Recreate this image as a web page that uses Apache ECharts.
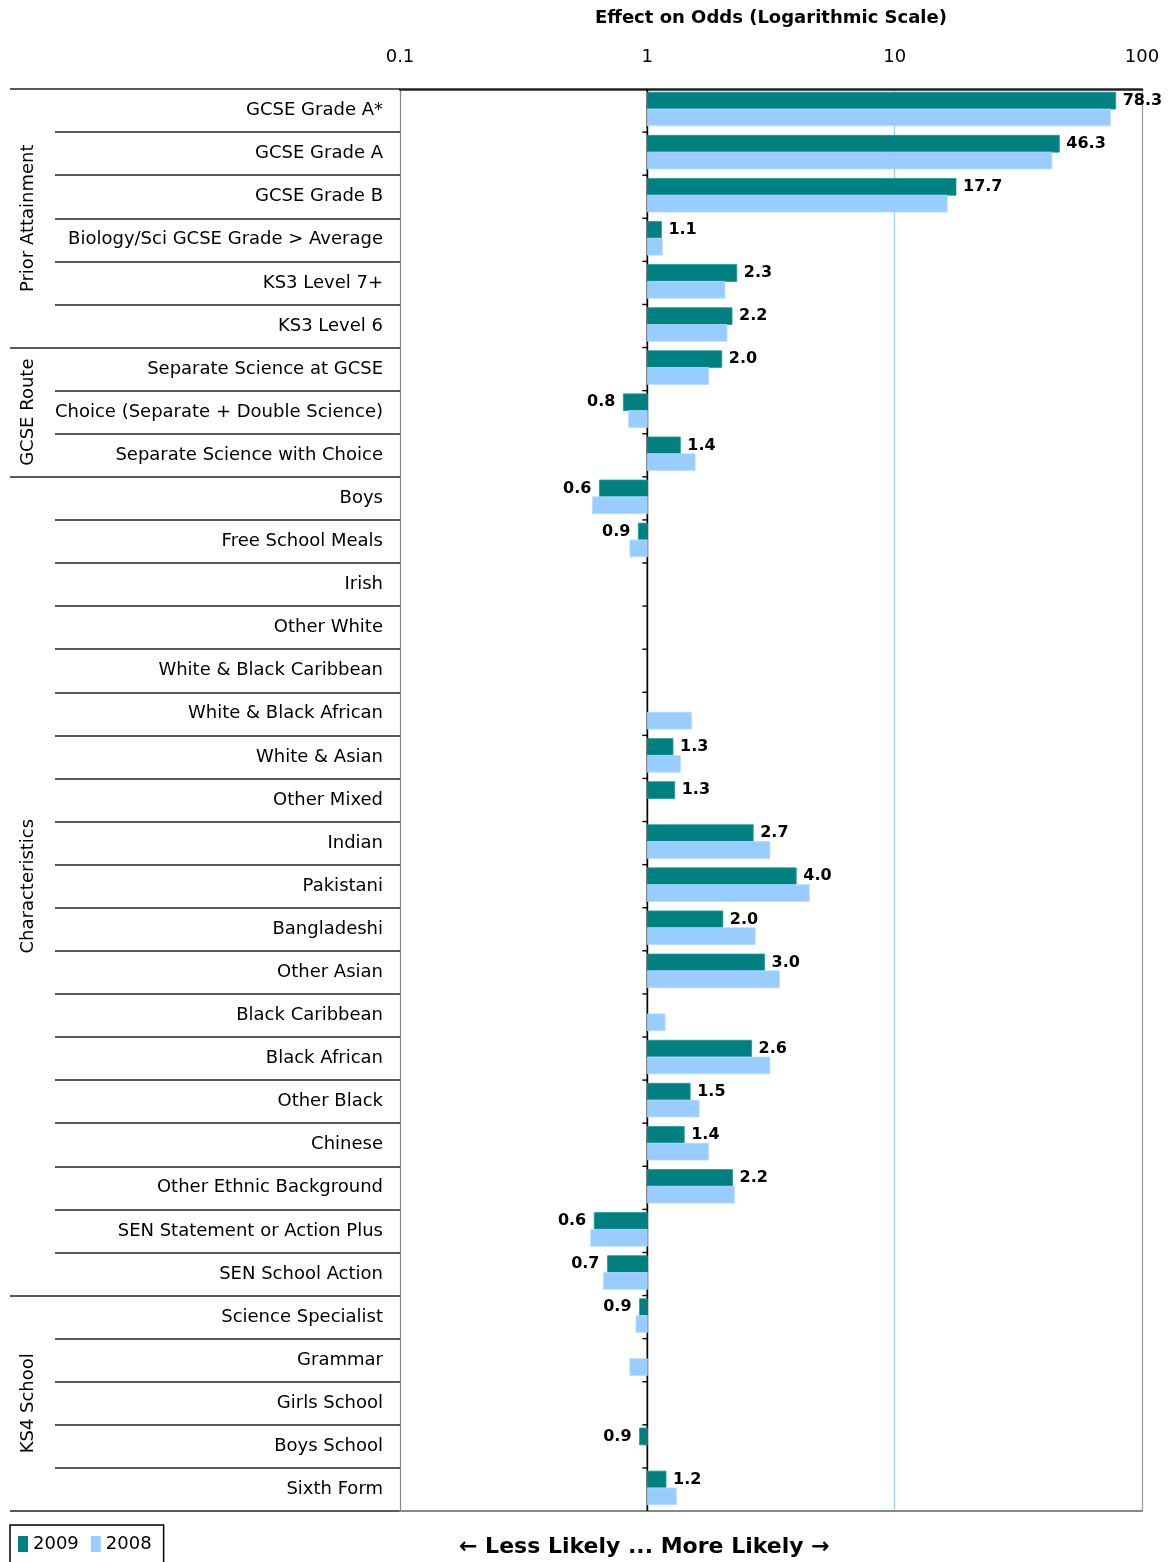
<!DOCTYPE html>
<html><head><meta charset="utf-8">
<script src="https://cdn.jsdelivr.net/npm/echarts@6/dist/echarts.min.js"></script>
<style>html,body{margin:0;padding:0;background:#fff}#c{width:1169px;height:1562px}</style>
</head><body><div id="c"></div>
<script>
const categories = [
  'GCSE Grade A*','GCSE Grade A','GCSE Grade B','Biology/Sci GCSE Grade > Average','KS3 Level 7+','KS3 Level 6',
  'Separate Science at GCSE','Choice (Separate + Double Science)','Separate Science with Choice',
  'Boys','Free School Meals','Irish','Other White','White & Black Caribbean','White & Black African','White & Asian',
  'Other Mixed','Indian','Pakistani','Bangladeshi','Other Asian','Black Caribbean','Black African','Other Black',
  'Chinese','Other Ethnic Background','SEN Statement or Action Plus','SEN School Action',
  'Science Specialist','Grammar','Girls School','Boys School','Sixth Form'
];
const groupNames = ['Prior Attainment','GCSE Route','Characteristics','KS4 School'];
const groupStart = [0, 6, 9, 28];
const groupEnd = [5, 8, 27, 32];
const values2009 = [78.3, 46.3, 17.7, 1.14, 2.3, 2.2, 2.0, 0.8, 1.36, 0.64, 0.92, null, null, null, null, 1.27,
  1.29, 2.68, 4.0, 2.02, 2.98, null, 2.64, 1.49, 1.41, 2.21, 0.61, 0.69, 0.93, null, null, 0.93, 1.19];
const values2008 = [74.5, 43.2, 16.3, 1.15, 2.06, 2.10, 1.77, 0.84, 1.56, 0.60, 0.85, null, null, null, 1.51, 1.36,
  null, 3.13, 4.52, 2.73, 3.42, 1.18, 3.13, 1.62, 1.77, 2.25, 0.59, 0.665, 0.90, 0.85, null, null, 1.31];
const xTickLabels = ['0.1', '1', '10', '100'];
const axisTitle = 'Effect on Odds (Logarithmic Scale)';
const bottomText = '\u2190 Less Likely ... More Likely \u2192';

const FONT = '"DejaVu Sans", sans-serif';
const C2009 = '#008080', C2008 = '#99CCFF';

const chart = echarts.init(document.getElementById('c'), null, {renderer: 'canvas'});

function barItem(offsetIdx, color, withLabel) {
  return function (params, api) {
    const v = api.value(0), i = api.value(1);
    if (!(v > 0)) return null;
    const p0 = api.coord([1, i]), p1 = api.coord([v, i]);
    const band = api.size([0, 1], [1, i])[1];
    const h = band * 0.39;
    const top = p0[1] - band / 2 + band * 0.075 + offsetIdx * h;
    const x = Math.min(p0[0], p1[0]), w = Math.abs(p1[0] - p0[0]);
    const children = [{type: 'rect', shape: {x: x, y: top, width: w, height: h},
      style: {fill: color, stroke: color === C2009 ? '#1a9a9a' : '#b5dcff', lineWidth: 0.8}}];
    if (withLabel) {
      children.push({type: 'text', x: v >= 1 ? p1[0] + 7 : p1[0] - 8, y: top + h / 2,
        style: {text: v.toFixed(1), align: v >= 1 ? 'left' : 'right', verticalAlign: 'middle',
          font: 'bold 16px ' + FONT, fill: '#000'}});
    }
    return {type: 'group', children: children};
  };
}

const gridBase = {top: 89, bottom: 51, containLabel: false, outerBoundsMode: 'none'};
const option = {
  animation: false,
  backgroundColor: '#fff',
  grid: [
    Object.assign({left: 400, right: 27}, gridBase),
    Object.assign({left: 55, width: 345}, gridBase),
    Object.assign({left: 10, width: 45}, gridBase)
  ],
  xAxis: [
    {gridIndex: 0, type: 'log', logBase: 10, min: 0.1, max: 100, position: 'top',
      name: axisTitle, nameLocation: 'middle', nameGap: 62,
      nameTextStyle: {fontFamily: FONT, fontWeight: 'bold', fontSize: 18, color: '#000'},
      axisLine: {show: true, lineStyle: {color: '#222', width: 2.5}},
      axisTick: {show: false},
      axisLabel: {margin: 23, fontFamily: FONT, fontSize: 18, color: '#000',
        formatter: function (v, idx) { return xTickLabels[idx]; }},
      splitLine: {show: true, lineStyle: {color: ['#888', '#000', '#99CCFF', '#999'], width: 1.2}}},
    {gridIndex: 0, type: 'log', logBase: 10, min: 0.1, max: 100, position: 'bottom',
      axisLine: {show: true, lineStyle: {color: '#888', width: 2}},
      axisTick: {show: false}, axisLabel: {show: false}, splitLine: {show: false}},
    {gridIndex: 1, type: 'value', min: 0, max: 1, show: false},
    {gridIndex: 2, type: 'value', min: 0, max: 1, show: false}
  ],
  yAxis: [
    {gridIndex: 0, type: 'category', data: categories, inverse: true,
      axisLine: {show: false}, axisTick: {show: false},
      axisLabel: {margin: 17, fontFamily: FONT, fontSize: 18, color: '#000'},
      splitLine: {show: false}},
    {gridIndex: 1, type: 'category', data: categories, inverse: true,
      axisLine: {show: false}, axisTick: {show: false}, axisLabel: {show: false},
      splitLine: {show: true, lineStyle: {color: '#222', width: 1.5}}},
    {gridIndex: 2, type: 'category', data: categories, inverse: true,
      axisLine: {show: false}, axisTick: {show: false}, axisLabel: {show: false},
      splitLine: {show: true, interval: function (i) { return groupStart.indexOf(i) >= 0; },
        lineStyle: {color: '#222', width: 1.5}}}
  ],
  legend: {
    data: ['2009', '2008'], left: 10, top: 1525, orient: 'horizontal',
    borderColor: '#000', borderWidth: 1.5, padding: [10, 12, 10, 8],
    itemWidth: 10, itemHeight: 16, itemGap: 12, icon: 'rect',
    textStyle: {fontFamily: FONT, fontSize: 18, color: '#000'}
  },
  series: [
    {type: 'custom', name: 'axis', xAxisIndex: 0, yAxisIndex: 0, silent: true,
      data: categories.map(function (c, i) { return [1, i]; }),
      encode: {x: 0, y: 1},
      renderItem: function (params, api) {
        const i = api.value(1);
        const p = api.coord([1, i]);
        const band = api.size([0, 1], [1, i])[1];
        const children = [{type: 'line', shape: {x1: p[0], y1: p[1] - band / 2, x2: p[0], y2: p[1] + band / 2},
          style: {stroke: '#000', lineWidth: 1.6}}];
        if (i < categories.length - 1) {
          children.push({type: 'line', shape: {x1: p[0] - 5, y1: p[1] + band / 2, x2: p[0], y2: p[1] + band / 2},
            style: {stroke: '#000', lineWidth: 1.4}});
        }
        return {type: 'group', children: children};
      }},
    {type: 'custom', name: '2009', xAxisIndex: 0, yAxisIndex: 0, itemStyle: {color: C2009},
      data: values2009.map(function (v, i) { return [v, i]; }), encode: {x: 0, y: 1},
      renderItem: barItem(0, C2009, true)},
    {type: 'custom', name: '2008', xAxisIndex: 0, yAxisIndex: 0, itemStyle: {color: C2008},
      data: values2008.map(function (v, i) { return [v, i]; }), encode: {x: 0, y: 1},
      renderItem: barItem(1, C2008, false)},
    {type: 'custom', name: 'groups', xAxisIndex: 3, yAxisIndex: 2, silent: true,
      dimensions: ['x', 's', 'e'],
      data: groupNames.map(function (g, k) { return [0.5, groupStart[k], groupEnd[k]]; }),
      encode: {x: 0, y: 1},
      renderItem: function (params, api) {
        const s = api.value(1), e = api.value(2);
        const band = api.size([0, 1], [0.5, s])[1];
        const yTop = api.coord([0.5, s])[1] - band / 2;
        const yBot = api.coord([0.5, e])[1] + band / 2;
        return {type: 'text', x: params.coordSys.x + 18, y: (yTop + yBot) / 2, rotation: Math.PI / 2,
          style: {text: groupNames[params.dataIndex], align: 'center', verticalAlign: 'middle',
            font: '18px ' + FONT, fill: '#000'}};
      }}
  ]
};
chart.setOption(option);
const xOne = chart.convertToPixel({xAxisIndex: 0}, 1);
chart.setOption({graphic: [{type: 'text', x: xOne - 3, y: 1547,
  style: {text: bottomText, align: 'center', verticalAlign: 'middle', font: 'bold 22px ' + FONT, fill: '#000'}}]});
</script>
</body></html>
